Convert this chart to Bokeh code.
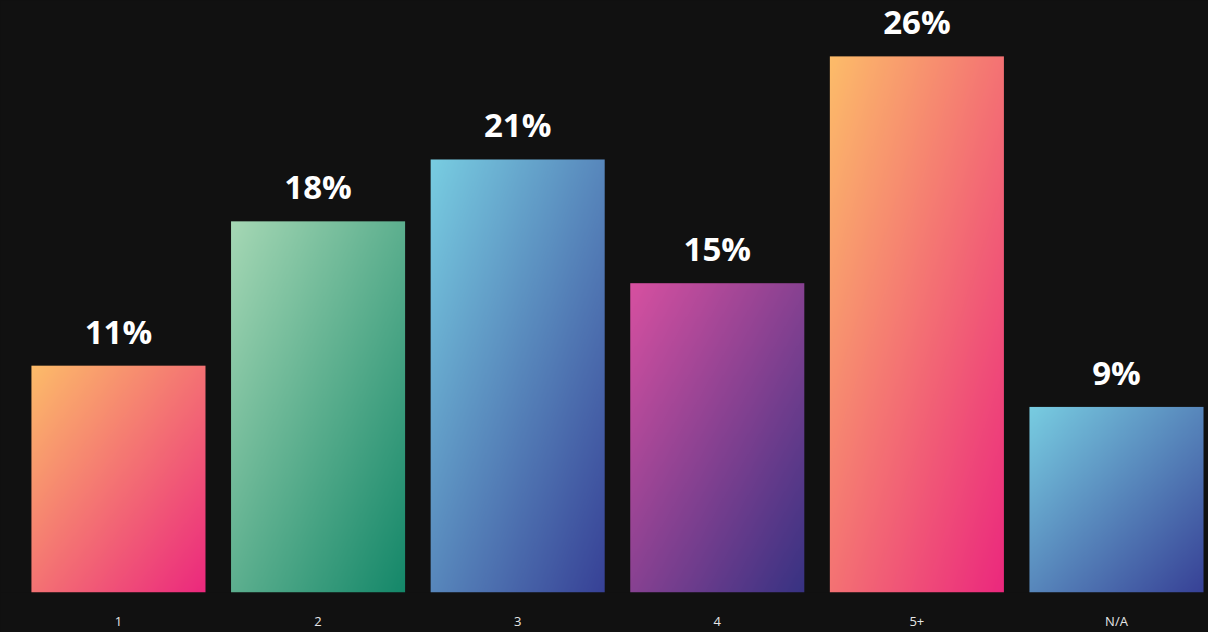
import numpy as np
from bokeh.plotting import figure
from bokeh.models import Range1d, FixedTicker, ColumnDataSource, GlobalInlineStyleSheet
from bokeh.core.properties import value
from bokeh.embed import file_html
from bokeh.resources import INLINE

# ---- data ----
categories = ["1", "2", "3", "4", "5+", "N/A"]
values = [11, 18, 21, 15, 26, 9]
labels = ["11%", "18%", "21%", "15%", "26%", "9%"]
grad_start = ["#FCBC69", "#A5D7B4", "#78CDE1", "#D750A0", "#FCBC69", "#78CDE1"]
grad_end = ["#EB287D", "#148769", "#374196", "#373282", "#EB287D", "#374196"]

BG = "#111111"
BAR_W = 0.872

p = figure(width=1208, height=632, output_backend="svg", toolbar_location=None,
           x_range=Range1d(-0.591, 5.461), y_range=Range1d(0, 28.71),
           min_border_left=0, min_border_right=0, min_border_top=0, min_border_bottom=40,
           background_fill_color=BG, border_fill_color=BG, outline_line_color=None)
p.stylesheets = [GlobalInlineStyleSheet(css="html, body { margin: 0 !important; padding: 0; background-color: #111111; overflow: hidden; }")]

p.xgrid.visible = False
p.ygrid.visible = False
p.yaxis.visible = False


def hex2rgb(h):
    h = h.lstrip("#")
    return np.array([int(h[i:i + 2], 16) for i in (0, 2, 4)], dtype=float)


xs = list(range(len(categories)))
imgs, xl, dws, dhs = [], [], [], []
NW, NH = 160, 320
for i, (v, c0, c1) in enumerate(zip(values, grad_start, grad_end)):
    a, b = hex2rgb(c0), hex2rgb(c1)
    u = np.linspace(0, 1, NW)[None, :]
    fb = np.linspace(0, 1, NH)[:, None]  # fraction from bottom
    t = (u + (1 - fb)) / 2.0
    rgb = a[None, None, :] * (1 - t[..., None]) + b[None, None, :] * t[..., None]
    img = np.empty((NH, NW), dtype=np.uint32)
    view = img.view(dtype=np.uint8).reshape((NH, NW, 4))
    view[..., 0] = rgb[..., 0].round().astype(np.uint8)
    view[..., 1] = rgb[..., 1].round().astype(np.uint8)
    view[..., 2] = rgb[..., 2].round().astype(np.uint8)
    view[..., 3] = 255
    imgs.append(img)
    xl.append(xs[i] - BAR_W / 2)
    dws.append(BAR_W)
    dhs.append(v)

p.image_rgba(image=imgs, x=xl, y=[0] * len(xs), dw=dws, dh=dhs)

src = ColumnDataSource(dict(x=xs, y=values, t=labels))
p.text(x="x", y="y", text="t", source=src, y_offset=-12,
       text_align="center", text_baseline="bottom",
       text_color="white", text_font=value("Open Sans"), text_font_style="bold",
       text_font_size="33px")

ax = p.xaxis[0]
ax.ticker = FixedTicker(ticks=xs)
ax.major_label_overrides = {i: c for i, c in zip(xs, categories)}
ax.axis_line_color = None
ax.major_tick_line_color = None
ax.minor_tick_line_color = None
ax.major_tick_out = 0
ax.major_tick_in = 0
ax.major_label_standoff = 19
ax.major_label_text_color = "#E6E6E6"
ax.major_label_text_font = "Open Sans"
ax.major_label_text_font_size = "13px"

open("out.html", "w").write(file_html(p, INLINE))
